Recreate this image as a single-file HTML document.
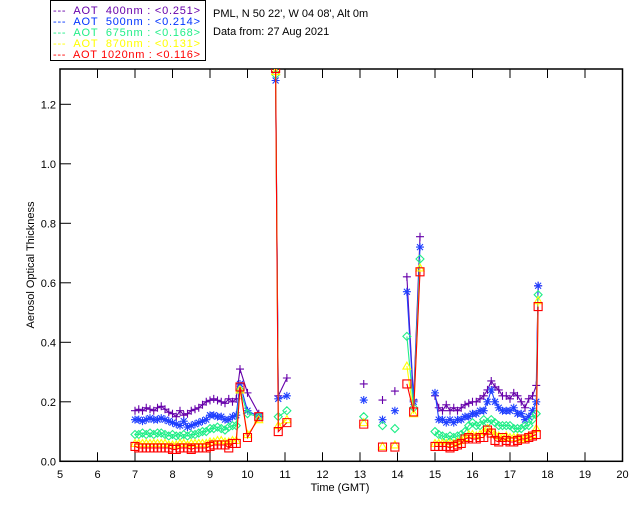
<!DOCTYPE html>
<html><head><meta charset="utf-8"><style>
html,body{margin:0;padding:0;background:#fff;}
svg{display:block;font-family:"Liberation Sans",sans-serif;}
</style></head><body>
<svg id="chart" width="640" height="512" viewBox="0 0 640 512">
<defs><clipPath id="plotclip"><rect x="60" y="69" width="563" height="393"/></clipPath></defs>
<g font-size="11">
<rect x="50.5" y="0.5" width="155" height="60" fill="#fff" stroke="#000"/>
<g fill="#6600aa"><text x="53" y="14" textLength="147" lengthAdjust="spacing" xml:space="preserve">---  AOT  400nm : &lt;0.251&gt;</text></g>
<g fill="#0033ff"><text x="53" y="25" textLength="147" lengthAdjust="spacing" xml:space="preserve">---  AOT  500nm : &lt;0.214&gt;</text></g>
<g fill="#22ee88"><text x="53" y="36" textLength="147" lengthAdjust="spacing" xml:space="preserve">---  AOT  675nm : &lt;0.168&gt;</text></g>
<g fill="#ffff00"><text x="53" y="47" textLength="147" lengthAdjust="spacing" xml:space="preserve">---  AOT  870nm : &lt;0.131&gt;</text></g>
<g fill="#ff0000"><text x="53" y="58" textLength="147" lengthAdjust="spacing" xml:space="preserve">---  AOT 1020nm : &lt;0.116&gt;</text></g>
</g>
<text x="213" y="17" font-size="11">PML, N 50 22', W 04 08', Alt 0m</text>
<text x="213" y="35" font-size="11">Data from: 27 Aug 2021</text>
<text x="0" y="0" font-size="11" transform="translate(34,265) rotate(-90)" text-anchor="middle">Aerosol Optical Thickness</text>
<text x="340" y="491" font-size="11" text-anchor="middle">Time (GMT)</text>
<g id="axes"></g>
<g id="series" clip-path="url(#plotclip)"></g>
</svg>
<script>
const xTicks=[5,6,7,8,9,10,11,12,13,14,15,16,17,18,19,20];
const yTicks=[0.0,0.2,0.4,0.6,0.8,1.0,1.2];
const yTickLabels=["0.0","0.2","0.4","0.6","0.8","1.0","1.2"];
const times=[7.0,7.1,7.2,7.3,7.4,7.5,7.6,7.7,7.8,7.9,8.0,8.1,8.2,8.3,8.4,8.5,8.6,8.7,8.8,8.9,9.0,9.1,9.2,9.3,9.4,9.5,9.6,9.7,9.8,10.0,10.3,
10.75,10.82,11.05,
13.1,13.6,13.93,
14.25,14.43,14.6,
15.0,15.1,15.2,15.3,15.4,15.5,15.6,15.7,15.8,15.9,16.0,16.1,16.2,16.3,16.4,16.5,16.6,16.7,16.8,16.9,17.0,17.1,17.2,17.3,17.4,17.5,17.6,17.7,17.75];
const segment=[0,0,0,0,0,0,0,0,0,0,0,0,0,0,0,0,0,0,0,0,0,0,0,0,0,0,0,0,0,0,0,
1,1,1,
2,3,4,
5,5,5,
6,6,6,6,6,6,6,6,6,6,6,6,6,6,6,6,6,6,6,6,6,6,6,6,6,6,6,6,6];
const aot400=[0.17,0.175,0.17,0.18,0.175,0.17,0.18,0.185,0.175,0.165,0.16,0.15,0.17,0.155,0.16,0.17,0.175,0.18,0.19,0.2,0.205,0.21,0.205,0.2,0.195,0.21,0.2,0.21,0.31,0.23,0.16,
1.31,0.22,0.28,
0.26,0.206,0.236,
0.62,0.206,0.755,
0.22,0.18,0.17,0.19,0.17,0.18,0.17,0.18,0.19,0.195,0.2,0.2,0.21,0.22,0.24,0.27,0.25,0.24,0.22,0.22,0.21,0.23,0.22,0.2,0.18,0.21,0.22,0.255,0.59];
const aot500=[0.14,0.14,0.135,0.14,0.145,0.14,0.14,0.145,0.14,0.135,0.13,0.125,0.12,0.135,0.115,0.12,0.125,0.13,0.135,0.14,0.155,0.155,0.15,0.15,0.14,0.14,0.15,0.155,0.26,0.17,0.15,
1.28,0.21,0.22,
0.206,0.14,0.17,
0.57,0.2,0.72,
0.23,0.14,0.14,0.13,0.14,0.13,0.14,0.14,0.15,0.15,0.16,0.16,0.17,0.17,0.2,0.24,0.2,0.18,0.17,0.17,0.17,0.18,0.16,0.16,0.14,0.15,0.17,0.2,0.59];
const aot675=[0.09,0.09,0.095,0.09,0.095,0.09,0.095,0.095,0.09,0.085,0.09,0.085,0.085,0.09,0.085,0.09,0.09,0.095,0.1,0.1,0.11,0.11,0.115,0.11,0.105,0.115,0.12,0.12,0.24,0.16,0.15,
1.3,0.15,0.17,
0.15,0.12,0.11,
0.42,0.18,0.68,
0.1,0.09,0.085,0.08,0.085,0.08,0.085,0.09,0.1,0.12,0.13,0.12,0.12,0.14,0.13,0.14,0.13,0.12,0.12,0.12,0.12,0.11,0.11,0.11,0.12,0.12,0.14,0.16,0.56];
const aot870=[0.06,0.06,0.06,0.06,0.06,0.06,0.06,0.06,0.06,0.055,0.055,0.055,0.06,0.06,0.055,0.06,0.06,0.06,0.06,0.06,0.065,0.065,0.07,0.07,0.065,0.065,0.07,0.07,0.24,0.09,0.14,
1.31,0.12,0.14,
0.13,0.05,0.055,
0.32,0.16,0.65,
0.06,0.06,0.06,0.06,0.06,0.06,0.065,0.07,0.08,0.09,0.09,0.085,0.09,0.1,0.11,0.1,0.09,0.085,0.08,0.085,0.08,0.08,0.08,0.075,0.08,0.085,0.09,0.11,0.54];
const aot1020=[0.05,0.045,0.045,0.045,0.045,0.045,0.045,0.045,0.045,0.045,0.04,0.04,0.045,0.045,0.045,0.04,0.045,0.045,0.045,0.045,0.05,0.055,0.055,0.055,0.055,0.045,0.06,0.06,0.25,0.08,0.15,
1.32,0.10,0.13,
0.125,0.048,0.048,
0.26,0.166,0.637,
0.05,0.05,0.05,0.05,0.045,0.05,0.055,0.06,0.075,0.08,0.075,0.075,0.08,0.08,0.105,0.095,0.07,0.065,0.08,0.07,0.065,0.065,0.07,0.075,0.075,0.08,0.085,0.09,0.52];

const NS='http://www.w3.org/2000/svg';
const X0=60,X1=622.5,Y0=461.3,PPU=297.5;
function sx(t){return X0+(t-5)*(X1-X0)/15;}
function sy(v){return Y0-v*PPU;}
function mk(tag,attrs,parent){const e=document.createElementNS(NS,tag);for(const k in attrs)e.setAttribute(k,attrs[k]);parent.appendChild(e);return e;}
const axes=document.getElementById('axes');
const frame=mk('rect',{x:X0,y:69,width:X1-X0,height:Y0-69,fill:'none',stroke:'#000','stroke-width':1.5},axes);


xTicks.forEach(t=>{
  const x=sx(t);
  const tb=mk('line',{x1:x,x2:x,y1:Y0,y2:Y0-9,stroke:'#000'},axes);
  
  
  const tt=mk('line',{x1:x,x2:x,y1:69,y2:78,stroke:'#000'},axes);
  
  
  const lb=mk('text',{x:x,y:478,'font-size':11,'text-anchor':'middle'},axes);
  lb.textContent=String(t);
  
  
});
yTicks.forEach((v,i)=>{
  const y=sy(v);
  const tl=mk('line',{x1:X0,x2:X0+11,y1:y,y2:y,stroke:'#000'},axes);
  
  
  const lb=mk('text',{x:56,y:y+4,'font-size':11,'text-anchor':'end'},axes);
  lb.textContent=yTickLabels[i];
  
  
});
const seriesG=document.getElementById('series');
const defs=[
 {name:'aot-400nm',vals:aot400,color:'#6600aa',m:'plus'},
 {name:'aot-500nm',vals:aot500,color:'#1f3fff',m:'star'},
 {name:'aot-675nm',vals:aot675,color:'#22ee88',m:'diamond'},
 {name:'aot-870nm',vals:aot870,color:'#ffff00',m:'triangle'},
 {name:'aot-1020nm',vals:aot1020,color:'#ff0000',m:'square'}];
function markerPath(m,x,y){
  const r=4;
  if(m==='plus')return `M${x-r},${y}H${x+r}M${x},${y-r}V${y+r}`;
  if(m==='star')return `M${x-r},${y}H${x+r}M${x},${y-r}V${y+r}M${x-3},${y-3}L${x+3},${y+3}M${x-3},${y+3}L${x+3},${y-3}`;
  if(m==='diamond')return `M${x},${y-r}L${x+r},${y}L${x},${y+r}L${x-r},${y}Z`;
  if(m==='triangle')return `M${x},${y-r}L${x+r},${y+3}L${x-r},${y+3}Z`;
  return `M${x-r},${y-r}H${x+r}V${y+r}H${x-r}Z`;
}
defs.forEach(s=>{
  const g=mk('g',{},seriesG);
  
  
  let d='';
  for(let i=0;i<times.length;i++){
    const x=sx(times[i]).toFixed(1),y=sy(s.vals[i]).toFixed(1);
    d+=(i>0&&segment[i]===segment[i-1]?'L':'M')+x+','+y;
  }
  const ln=mk('path',{d:d,fill:'none',stroke:s.color,'stroke-width':1.1},g);
  
  
  let md='';
  for(let i=0;i<times.length;i++)md+=markerPath(s.m,sx(times[i]),sy(s.vals[i]));
  const mp=mk('path',{d:md,fill:'none',stroke:s.color,'stroke-width':1.1},g);
  
  
});
</script>
</body></html>
